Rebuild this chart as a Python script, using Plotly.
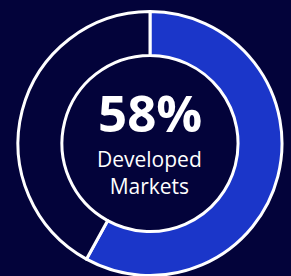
import plotly.graph_objects as go

labels = ["Developed Markets", "Other"]
values = [58, 42]
slice_colors = ["#1b36c9", "#03033a"]
headline = "58%"
caption_lines = ["Developed", "Markets"]

BG = "#03033a"

fig = go.Figure(
    go.Pie(
        labels=labels,
        values=values,
        hole=0.667,
        sort=False,
        direction="clockwise",
        rotation=0,
        marker=dict(colors=slice_colors, line=dict(color="white", width=3)),
        textinfo="none",
        hoverinfo="skip",
        showlegend=False,
        domain=dict(x=[18 / 291, 282 / 291], y=[0.5 / 276, 264.5 / 276]),
    )
)

fig.add_annotation(
    x=150 / 291, y=1 - 111.5 / 276, xref="paper", yref="paper",
    text=f"<b>{headline}</b>", showarrow=False,
    font=dict(family="Open Sans", size=51, color="white"),
    xanchor="center", yanchor="middle", height=60,
)
fig.add_annotation(
    x=150 / 291, y=1 - 172.5 / 276, xref="paper", yref="paper",
    text="<br>".join(caption_lines), showarrow=False,
    font=dict(family="Open Sans", size=21, color="white"),
    xanchor="center", yanchor="middle",
)

fig.update_layout(
    width=291, height=276,
    margin=dict(l=0, r=0, t=0, b=0),
    paper_bgcolor=BG, plot_bgcolor=BG,
)

fig.write_html(
    "out.html",
    config={"displayModeBar": False, "staticPlot": True},
    post_script="document.body.style.margin='0';document.body.style.background='" + BG + "';",
)
